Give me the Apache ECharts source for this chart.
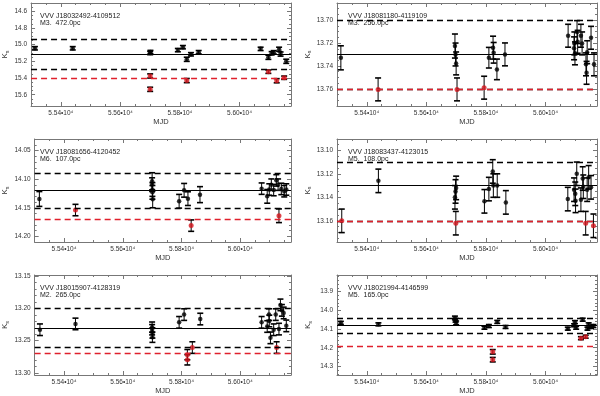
<!DOCTYPE html>
<html>
<head>
<meta charset="utf-8">
<script src="https://cdn.jsdelivr.net/npm/echarts@6/dist/echarts.min.js"></script>
<style>
  html, body { margin: 0; padding: 0; background: #fff; }
  #chart { width: 600px; height: 396px; }
</style>
</head>
<body>
<div id="chart"></div>
<script>
// each point: [MJD, Ks, error]
const p1Black = [
  [55313, 15.043, 0.02], [55440, 15.043, 0.02], [55700, 15.100, 0.02], [55701, 15.088, 0.02],
  [55793, 15.065, 0.02], [55810, 15.030, 0.02], [55823, 15.175, 0.025], [55837, 15.115, 0.02],
  [55863, 15.090, 0.02], [56071, 15.050, 0.02], [56097, 15.151, 0.025], [56108, 15.103, 0.02],
  [56115, 15.091, 0.02], [56133, 15.055, 0.025], [56138, 15.112, 0.025], [56157, 15.199, 0.025]
];
const p1Red = [
  [55700, 15.375, 0.025], [55700, 15.535, 0.025], [55823, 15.430, 0.025],
  [56097, 15.324, 0.02], [56125, 15.432, 0.025], [56150, 15.396, 0.02]
];

const p2Black = [
  [55313, 13.7329, 0.0105], [55696, 13.7226, 0.0105], [55698, 13.7300, 0.010], [55700, 13.7378, 0.010],
  [55810, 13.7328, 0.009], [55824, 13.7240, 0.010], [55826, 13.7285, 0.009], [55837, 13.7430, 0.009],
  [55864, 13.7299, 0.010], [56076, 13.7136, 0.010], [56096, 13.7246, 0.010], [56097, 13.7203, 0.010],
  [56099, 13.7290, 0.010], [56106, 13.7104, 0.010], [56108, 13.7189, 0.010], [56119, 13.7136, 0.010],
  [56123, 13.7203, 0.010], [56136, 13.7386, 0.010], [56138, 13.7460, 0.010], [56140, 13.7280, 0.010],
  [56153, 13.7154, 0.010], [56163, 13.7386, 0.010]
];
const p2Red = [[55438, 13.7605, 0.010], [55703, 13.7605, 0.010], [55794, 13.7590, 0.010]];

const p3Black = [
  [55316, 14.1346, 0.013], [55700, 14.1036, 0.015], [55700, 14.1095, 0.012], [55701, 14.1180, 0.012],
  [55701, 14.1230, 0.012], [55702, 14.1350, 0.015], [55792, 14.1386, 0.012], [55809, 14.1194, 0.012],
  [55822, 14.1340, 0.012], [55863, 14.1270, 0.014], [56073, 14.1165, 0.010], [56092, 14.1300, 0.012],
  [56099, 14.1180, 0.010], [56106, 14.1095, 0.010], [56114, 14.1190, 0.010], [56123, 14.1020, 0.010],
  [56129, 14.1095, 0.010], [56140, 14.1170, 0.010], [56150, 14.1210, 0.010], [56157, 14.1180, 0.010]
];
const p3Red = [[55439, 14.1540, 0.010], [55833, 14.1813, 0.010], [56132, 14.1640, 0.012]];

const p4Black = [
  [55439, 13.1260, 0.010], [55696, 13.1400, 0.010], [55698, 13.1350, 0.010], [55700, 13.1320, 0.010],
  [55795, 13.1434, 0.010], [55810, 13.1330, 0.010], [55823, 13.1180, 0.010], [55825, 13.1300, 0.010],
  [55838, 13.1300, 0.010], [55867, 13.1443, 0.010], [56075, 13.1415, 0.010], [56096, 13.1335, 0.010],
  [56100, 13.1370, 0.010], [56101, 13.1430, 0.010], [56105, 13.1200, 0.010], [56119, 13.1420, 0.010],
  [56125, 13.1240, 0.010], [56127, 13.1310, 0.010], [56140, 13.1335, 0.010], [56145, 13.1230, 0.010],
  [56153, 13.1315, 0.010]
];
const p4Red = [[55316, 13.1600, 0.010], [55699, 13.1620, 0.010], [56135, 13.1620, 0.010], [56161, 13.1642, 0.010]];

const p5Black = [
  [55318, 13.2330, 0.009], [55439, 13.2240, 0.009], [55700, 13.2290, 0.008], [55700, 13.2330, 0.008],
  [55701, 13.2380, 0.008], [55701, 13.2446, 0.008], [55792, 13.2215, 0.009], [55809, 13.2095, 0.009],
  [55864, 13.2164, 0.009], [56073, 13.2215, 0.009], [56092, 13.2280, 0.009], [56098, 13.2095, 0.009],
  [56099, 13.2194, 0.009], [56103, 13.2456, 0.009], [56114, 13.2330, 0.009], [56121, 13.2095, 0.009],
  [56132, 13.2320, 0.009], [56137, 13.1944, 0.009], [56142, 13.2029, 0.009], [56148, 13.2069, 0.009],
  [56157, 13.2270, 0.009]
];
const p5Red = [[55820, 13.2717, 0.008], [55820, 13.2797, 0.008], [55837, 13.2607, 0.009], [56124, 13.2607, 0.009]];

const p6Black = [
  [55313, 14.067, 0.008], [55439, 14.075, 0.008], [55696, 14.041, 0.010], [55698, 14.053, 0.010],
  [55700, 14.067, 0.010], [55795, 14.093, 0.008], [55810, 14.084, 0.008], [55838, 14.062, 0.008],
  [55866, 14.089, 0.008], [56075, 14.098, 0.008], [56096, 14.080, 0.008], [56099, 14.063, 0.008],
  [56103, 14.093, 0.008], [56125, 14.050, 0.008], [56141, 14.098, 0.008], [56145, 14.075, 0.008],
  [56153, 14.089, 0.008], [56161, 14.084, 0.008]
];
const p6Red = [[55823, 14.222, 0.012], [55823, 14.264, 0.012], [56119, 14.149, 0.008], [56135, 14.141, 0.008]];

const starNames = ['VVV J18032492-4109512', 'VVV J18081180-4119109', 'VVV J18081656-4120452',
                   'VVV J18083437-4123015', 'VVV J18015907-4128319', 'VVV J18021994-4146599'];
const starInfo = ['M3.  472.0pc', 'M3.  256.0pc', 'M6.  107.0pc', 'M5.  108.0pc', 'M2.  265.0pc', 'M5.  165.0pc'];

// horizontal reference levels
const meanMag  = [15.113, 13.7296, 14.120, 13.1344, 13.227, 14.079];
const upperMag = [14.935, 13.7028, 14.0903, 13.1108, 13.1953, 14.036];
const lowerMag = [15.295, 13.7573, 14.150, 13.1577, 13.259, 14.123];
const limitMag = [15.400, 13.7602, 14.1667, 13.162, 13.268, 14.191];

const yTicks = [
  [14.6, 14.8, 15.0, 15.2, 15.4, 15.6],
  [13.70, 13.72, 13.74, 13.76],
  [14.05, 14.10, 14.15, 14.20],
  [13.10, 13.12, 13.14, 13.16],
  [13.15, 13.20, 13.25, 13.30],
  [13.9, 14.0, 14.1, 14.2, 14.3]
];
const yDecimals = [1, 2, 2, 2, 2, 1];
const xTicks = [55400, 55600, 55800, 56000];

const panels = [
  {black: p1Black, red: p1Red, yMin: 14.50,   yMax: 15.735, minor: 0.05},
  {black: p2Black, red: p2Red, yMin: 13.685,  yMax: 13.775, minor: 0.005},
  {black: p3Black, red: p3Red, yMin: 14.0295, yMax: 14.21,  minor: 0.01},
  {black: p4Black, red: p4Red, yMin: 13.0904, yMax: 13.178, minor: 0.005},
  {black: p5Black, red: p5Red, yMin: 13.148,  yMax: 13.3033, minor: 0.01},
  {black: p6Black, red: p6Red, yMin: 13.811,  yMax: 14.346, minor: 0.02}
];

const xMin = 55300, xMax = 56173;
const tops = [3, 139, 275];
const lefts = [29, 337];
const widths = [262, 260];
const plotH = 103;
const frame = '#777';
const font = 'Liberation Sans, Arial, sans-serif';

function minorValues(min, max, step) {
  const out = [];
  const k0 = Math.ceil(min / step - 1e-6), k1 = Math.floor(max / step + 1e-6);
  for (let k = k0; k <= k1; k++) out.push(+(k * step).toFixed(6));
  return out;
}

function errorBar(params, api) {
  const x = api.value(0), y = api.value(1), e = api.value(2);
  const hi = api.coord([x, y - e]);
  const lo = api.coord([x, y + e]);
  const cap = 3;
  const s = {stroke: '#000', lineWidth: 1};
  const c = {stroke: '#000', lineWidth: 1.6};
  return {
    type: 'group',
    children: [
      {type: 'line', shape: {x1: hi[0], y1: hi[1], x2: lo[0], y2: lo[1]}, style: s},
      {type: 'line', shape: {x1: hi[0] - cap, y1: hi[1], x2: hi[0] + cap, y2: hi[1]}, style: c},
      {type: 'line', shape: {x1: lo[0] - cap, y1: lo[1], x2: lo[0] + cap, y2: lo[1]}, style: c}
    ]
  };
}

const grid = [], xAxis = [], yAxis = [], series = [], graphic = [];
const xMinor = minorValues(xMin, xMax, 50);

panels.forEach((p, i) => {
  const col = i % 2, row = Math.floor(i / 2);
  grid.push({left: lefts[col], top: tops[row], width: widths[col], height: plotH});

  // x axes: bottom (labels), top mirror, minor bottom, minor top
  ['bottom', 'top'].forEach((pos, j) => {
    xAxis.push({
      gridIndex: i, type: 'value', min: xMin, max: xMax, position: pos,
      axisLine: {show: true, onZero: false, lineStyle: {color: frame, width: 1}},
      axisTick: {show: true, inside: true, length: 4, customValues: xTicks, lineStyle: {color: frame}},
      axisLabel: {
        show: j === 0, customValues: xTicks, fontSize: 6.5, color: '#333', fontFamily: font, margin: 4,
        formatter: v => (v / 10000).toFixed(2) + '•10⁴'
      },
      splitLine: {show: false},
      name: j === 0 ? 'MJD' : '', nameLocation: 'middle', nameGap: 12,
      nameTextStyle: {fontSize: 7.5, color: '#333', fontFamily: font}
    });
  });
  ['bottom', 'top'].forEach(pos => {
    xAxis.push({
      gridIndex: i, type: 'value', min: xMin, max: xMax, position: pos,
      axisLine: {show: false},
      axisTick: {show: true, inside: true, length: 2, customValues: xMinor, lineStyle: {color: frame}},
      axisLabel: {show: false}, splitLine: {show: false}
    });
  });

  const minors = minorValues(p.yMin, p.yMax, p.minor);
  ['left', 'right'].forEach((pos, j) => {
    yAxis.push({
      gridIndex: i, type: 'value', inverse: true, min: p.yMin, max: p.yMax, position: pos,
      axisLine: {show: true, onZero: false, lineStyle: {color: frame, width: 1}},
      axisTick: {show: true, inside: true, length: 4, customValues: yTicks[i], lineStyle: {color: frame}},
      axisLabel: {
        show: j === 0, customValues: yTicks[i], fontSize: 6.5, color: '#333', fontFamily: font, margin: 4,
        formatter: v => v.toFixed(yDecimals[i])
      },
      splitLine: {show: false},
      name: j === 0 ? '{k|K}{s|s}' : '', nameLocation: 'middle', nameGap: col === 0 ? 16 : 24,
      nameTextStyle: {
        color: '#333', fontFamily: font,
        rich: {k: {fontSize: 8, fontFamily: font, color: '#333'},
               s: {fontSize: 5.5, fontFamily: font, color: '#333', padding: [5, 0, 0, 0]}}
      }
    });
  });
  ['left', 'right'].forEach(pos => {
    yAxis.push({
      gridIndex: i, type: 'value', inverse: true, min: p.yMin, max: p.yMax, position: pos,
      axisLine: {show: false},
      axisTick: {show: true, inside: true, length: 2, customValues: minors, lineStyle: {color: frame}},
      axisLabel: {show: false}, splitLine: {show: false}
    });
  });

  const xi = 4 * i, yi = 4 * i;
  series.push({
    type: 'line', xAxisIndex: xi, yAxisIndex: yi, data: [], silent: true, z: 1,
    markLine: {
      silent: true, symbol: 'none', label: {show: false}, animation: false,
      data: [
        {yAxis: meanMag[i], lineStyle: {color: '#000', type: 'solid', width: 1.2}},
        {yAxis: upperMag[i], lineStyle: {color: '#000', type: [6, 4], width: 1.3}},
        {yAxis: lowerMag[i], lineStyle: {color: '#000', type: [6, 4], width: 1.3}},
        {yAxis: limitMag[i], lineStyle: {color: '#e0202c', type: [6, 4], width: 1.3}}
      ]
    }
  });
  [p.black, p.red].forEach(d => {
    series.push({
      type: 'custom', xAxisIndex: xi, yAxisIndex: yi, data: d, renderItem: errorBar,
      encode: {x: 0, y: 1}, silent: true, z: 2
    });
  });
  series.push({
    type: 'scatter', xAxisIndex: xi, yAxisIndex: yi, data: p.black, symbolSize: 4.5,
    itemStyle: {color: '#000'}, silent: true, z: 3
  });
  series.push({
    type: 'scatter', xAxisIndex: xi, yAxisIndex: yi, data: p.red, symbolSize: 5,
    itemStyle: {color: '#d4141c'}, silent: true, z: 4
  });

  graphic.push({
    type: 'text', left: lefts[col] + 11, top: tops[row] + 10,
    style: {text: starNames[i] + '\n' + starInfo[i], fontSize: 7, lineHeight: 7,
            fill: '#222', fontFamily: font}
  });
});

const myChart = echarts.init(document.getElementById('chart'));
myChart.setOption({
  animation: false,
  backgroundColor: '#fff',
  grid: grid,
  xAxis: xAxis,
  yAxis: yAxis,
  series: series,
  graphic: graphic
});
</script>
</body>
</html>
